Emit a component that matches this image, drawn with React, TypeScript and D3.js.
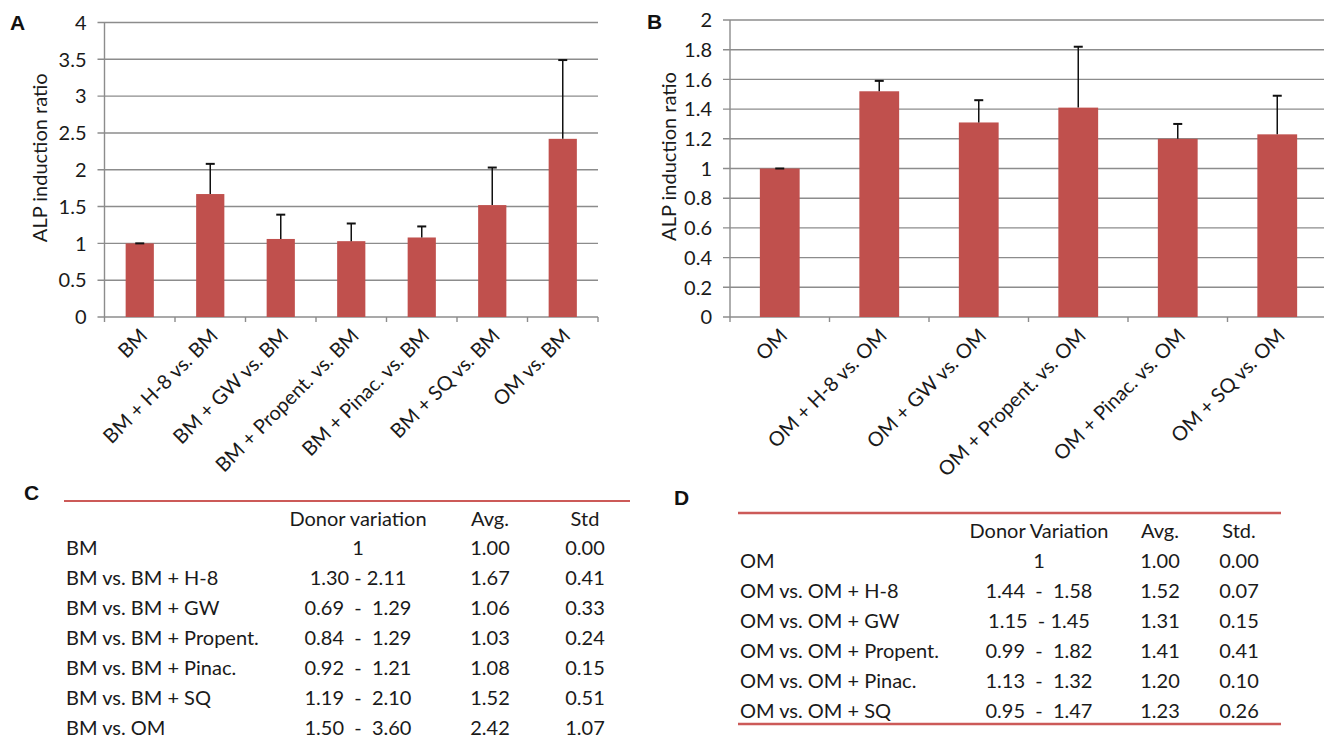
import React from "react";
import * as d3 from "d3"

// panel A: basal medium
const catsA = ["BM", "BM + H-8 vs. BM", "BM + GW vs. BM", "BM + Propent. vs. BM", "BM + Pinac. vs. BM", "BM + SQ vs. BM", "OM vs. BM"]
const avgA = [1.00, 1.67, 1.06, 1.03, 1.08, 1.52, 2.42]
const stdA = [0.00, 0.41, 0.33, 0.24, 0.15, 0.51, 1.07]
const ticksA = [0, 0.5, 1, 1.5, 2, 2.5, 3, 3.5, 4]

// panel B: osteogenic medium
const catsB = ["OM", "OM + H-8 vs. OM", "OM + GW vs. OM", "OM + Propent. vs. OM", "OM + Pinac. vs. OM", "OM + SQ vs. OM"]
const avgB = [1.00, 1.52, 1.31, 1.41, 1.20, 1.23]
const stdB = [0.00, 0.07, 0.15, 0.41, 0.10, 0.26]
const ticksB = [0, 0.2, 0.4, 0.6, 0.8, 1, 1.2, 1.4, 1.6, 1.8, 2]

// tables C and D
const headC = ["Donor variation", "Avg.", "Std"]
const rowsC = ["BM", "BM vs. BM + H-8", "BM vs. BM + GW", "BM vs. BM + Propent.", "BM vs. BM + Pinac.", "BM vs. BM + SQ", "BM vs. OM"]
const rangeC = ["1", "1.30 - 2.11", "0.69  -  1.29", "0.84  -  1.29", "0.92  -  1.21", "1.19  -  2.10", "1.50  -  3.60"]
const headD = ["Donor Variation", "Avg.", "Std."]
const rowsD = ["OM", "OM vs. OM + H-8", "OM vs. OM + GW", "OM vs. OM + Propent.", "OM vs. OM + Pinac.", "OM vs. OM + SQ"]
const rangeD = ["1", "1.44  -  1.58", "1.15  - 1.45", "0.99  -  1.82", "1.13  -  1.32", "0.95  -  1.47"]

const barColor = "#C0504D"
const gridColor = "#8C8C8C"
const textColor = "#1A1A1A"
const redLine = "#CC5A58"
const font = "Lato, 'Open Sans', sans-serif"
const fontSize = 20
const fmt = d3.format(".2f")

type Sel = d3.Selection<SVGGElement, unknown, null, undefined>

function drawBars(g: Sel, cats: string[], avg: number[], std: number[], ticks: number[],
    x0: number, x1: number, y0: number, y1: number, yLabelX: number) {
    const x = d3.scaleBand().domain(cats).range([x0, x1]).paddingInner(0.6).paddingOuter(0.3)
    const y = d3.scaleLinear().domain([0, ticks[ticks.length - 1]]).range([y0, y1])
    const step = x.step()

    // gridlines + little ticks left of the axis
    g.selectAll(".grid").data(ticks).join("line")
        .attr("x1", x0 - 7).attr("x2", x1)
        .attr("y1", d => y(d)).attr("y2", d => y(d))
        .attr("stroke", gridColor).attr("stroke-width", 1.4)
    g.append("line").attr("x1", x0).attr("x2", x0).attr("y1", y1).attr("y2", y0)
        .attr("stroke", gridColor).attr("stroke-width", 1.4)
    g.selectAll(".ylab").data(ticks).join("text")
        .attr("x", x0 - 18).attr("y", d => y(d)).attr("dy", "0.36em")
        .attr("text-anchor", "end")
        .attr("font-size", fontSize).attr("fill", textColor)
        .text(d => d3.format("")(d))

    // category boundary ticks below the axis
    const bounds = d3.range(cats.length + 1).map(i => x0 + i * step)
    g.selectAll(".xtick").data(bounds).join("line")
        .attr("x1", d => d).attr("x2", d => d)
        .attr("y1", y0).attr("y2", y0 + 5)
        .attr("stroke", gridColor).attr("stroke-width", 1.4)

    g.selectAll(".bar").data(cats).join("rect")
        .attr("x", d => x(d)!).attr("width", x.bandwidth())
        .attr("y", (d, i) => y(avg[i])).attr("height", (d, i) => y0 - y(avg[i]))
        .attr("fill", barColor)

    // upper error bars only
    cats.forEach((c, i) => {
        const cx = x(c)! + x.bandwidth() / 2
        const top = y(avg[i] + std[i])
        g.append("line").attr("x1", cx).attr("x2", cx).attr("y1", y(avg[i])).attr("y2", top)
            .attr("stroke", "#111").attr("stroke-width", 1.5)
        g.append("line").attr("x1", cx - 4.5).attr("x2", cx + 4.5).attr("y1", top).attr("y2", top)
            .attr("stroke", "#111").attr("stroke-width", 2)
    })

    g.selectAll(".xlab").data(cats).join("text")
        .attr("transform", d => `translate(${x(d)! + x.bandwidth() / 2 + 9},${y0 + 20}) rotate(-45)`)
        .attr("text-anchor", "end")
        .attr("font-size", fontSize).attr("fill", textColor)
        .text(d => d)

    g.append("text")
        .attr("transform", `translate(${yLabelX},${(y0 + y1) / 2 - 12}) rotate(-90)`)
        .attr("text-anchor", "middle").attr("dy", "0.35em")
        .attr("font-size", fontSize).attr("fill", textColor)
        .text("ALP induction ratio")
}

function drawTable(g: Sel, head: string[], rows: string[], ranges: string[], avg: number[], std: number[],
    left: number, cols: number[], headY: number, rowY: number) {
    const rowH = 30
    head.forEach((h, i) => {
        g.append("text").attr("x", cols[i]).attr("y", headY).attr("dy", "0.35em")
            .attr("text-anchor", "middle").attr("font-size", fontSize).attr("fill", textColor)
            .text(h)
    })
    const r = g.selectAll(".row").data(rows).join("g")
        .attr("transform", (d, i) => `translate(0,${rowY + i * rowH})`)
    r.append("text").attr("x", left).attr("dy", "0.35em")
        .attr("font-size", fontSize).attr("fill", textColor).text(d => d)
    r.append("text").attr("x", cols[0]).attr("dy", "0.35em")
        .attr("text-anchor", "middle").attr("font-size", fontSize).attr("fill", textColor)
        .attr("xml:space", "preserve").style("white-space", "pre")
        .text((d, i) => ranges[i])
    r.append("text").attr("x", cols[1]).attr("dy", "0.35em")
        .attr("text-anchor", "middle").attr("font-size", fontSize).attr("fill", textColor)
        .text((d, i) => fmt(avg[i]))
    r.append("text").attr("x", cols[2]).attr("dy", "0.35em")
        .attr("text-anchor", "middle").attr("font-size", fontSize).attr("fill", textColor)
        .text((d, i) => fmt(std[i]))
}

export default class App extends React.Component {
    svg: React.RefObject<SVGSVGElement | null> = React.createRef<SVGSVGElement>()
    componentDidMount() {
        document.body.style.margin = "0"
        const svg = d3.select(this.svg.current!)
        svg.selectAll("*").remove()
        const root = svg.append("g").attr("font-family", font)

        // panel letters
        const letters: [string, number, number][] = [["A", 10, 30], ["B", 647, 29], ["C", 24, 500], ["D", 674, 505]]
        letters.forEach(([t, lx, ly]) => {
            root.append("text").attr("x", lx).attr("y", ly).text(t)
                .attr("font-family", "'Liberation Sans', Arial, sans-serif")
                .attr("font-weight", "bold").attr("font-size", 21).attr("fill", "#111")
        })

        drawBars(root.append("g"), catsA, avgA, stdA, ticksA, 104.5, 598, 317, 22.5, 40)
        drawBars(root.append("g"), catsB, avgB, stdB, ticksB, 730, 1327, 317, 20, 669)

        // table C
        const gc = root.append("g")
        gc.append("line").attr("x1", 64).attr("x2", 630).attr("y1", 501).attr("y2", 501)
            .attr("stroke", redLine).attr("stroke-width", 2)
        drawTable(gc, headC, rowsC, rangeC, avgA, stdA, 66, [358, 490, 585], 519, 548)

        // table D
        const gd = root.append("g")
        gd.append("line").attr("x1", 738).attr("x2", 1281).attr("y1", 513).attr("y2", 513)
            .attr("stroke", redLine).attr("stroke-width", 2.5)
        gd.append("line").attr("x1", 738).attr("x2", 1281).attr("y1", 724).attr("y2", 724)
            .attr("stroke", redLine).attr("stroke-width", 2.5)
        drawTable(gd, headD, rowsD, rangeD, avgB, stdB, 740, [1039, 1160, 1239], 531, 561)
    }
    render(): React.ReactNode {
        return (
            <>
                <svg ref={this.svg} width={1324} height={739} style={{ display: "block" }}></svg>
            </>
        )
    }
}
